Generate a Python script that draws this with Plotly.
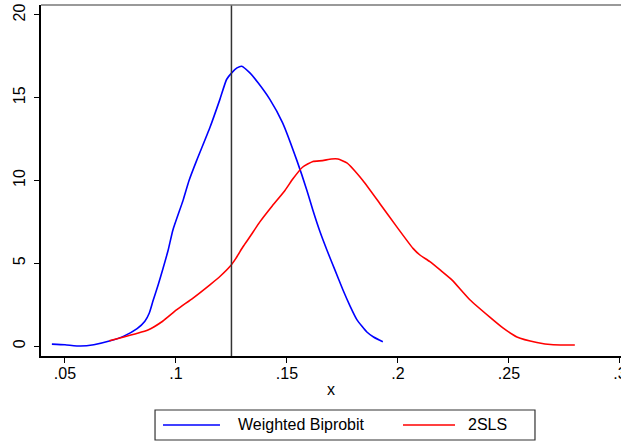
import plotly.graph_objects as go

# Kernel density estimates of the coefficient under two estimators
series_names = ["Weighted Biprobit", "2SLS"]
series_colors = ["#0000ff", "#ff0000"]

biprobit_x = [0.0441, 0.050, 0.057, 0.063, 0.070, 0.0765, 0.0825, 0.086, 0.088, 0.0896,
              0.0920, 0.0942, 0.0965, 0.0986, 0.1032, 0.1059, 0.1093, 0.1153, 0.1198,
              0.1228, 0.1251, 0.1275, 0.1296, 0.1333, 0.137, 0.1423, 0.148, 0.1545,
              0.159, 0.1617, 0.1649, 0.168, 0.1716, 0.1752, 0.1785, 0.1815, 0.186,
              0.189, 0.1932]
biprobit_y = [0.12, 0.08, 0.0, 0.08, 0.30, 0.6, 1.05, 1.5, 2.0, 2.7,
              3.7, 4.7, 5.8, 7.0, 8.8, 10.0, 11.2, 13.2, 14.9,
              16.1, 16.5, 16.8, 16.9, 16.5, 15.9, 14.9, 13.5, 11.2,
              9.4, 8.2, 6.9, 5.8, 4.6, 3.4, 2.4, 1.6, 0.85,
              0.55, 0.26]

tsls_x = [0.070, 0.0765, 0.082, 0.0874, 0.094, 0.1004, 0.1077, 0.1153, 0.1198,
          0.1243, 0.127, 0.1302, 0.1333, 0.1378, 0.1430, 0.1491, 0.1527, 0.157, 0.1617,
          0.166, 0.170, 0.173, 0.177, 0.1842, 0.1919, 0.1995, 0.2068, 0.2099, 0.2144,
          0.219, 0.2243, 0.2324, 0.2414, 0.2473, 0.2536, 0.2626, 0.270, 0.2797]
tsls_y = [0.32, 0.55, 0.75, 0.97, 1.5, 2.2, 2.9, 3.7, 4.2,
          4.8, 5.3, 6.0, 6.6, 7.5, 8.4, 9.4, 10.1, 10.8, 11.15,
          11.2, 11.3, 11.3, 11.06, 10.0, 8.6, 7.2, 5.9, 5.5, 5.1,
          4.6, 4.0, 2.8, 1.75, 1.1, 0.55, 0.22, 0.08, 0.06]

reference_x = 0.125

x_ticks = [0.05, 0.1, 0.15, 0.2, 0.25, 0.3]
x_tick_labels = [".05", ".1", ".15", ".2", ".25", ".3"]
y_ticks = [0, 5, 10, 15, 20]
y_tick_labels = ["0", "5", "10", "15", "20"]

FONT = "Liberation Sans, Arial, sans-serif"

fig = go.Figure()
for name, color, xs, ys in zip(series_names, series_colors,
                               [biprobit_x, tsls_x], [biprobit_y, tsls_y]):
    fig.add_trace(go.Scatter(x=xs, y=ys, mode="lines", name=name,
                             line=dict(color=color, width=1.6, shape="spline", smoothing=0.5),
                             showlegend=False, hoverinfo="skip"))

# vertical reference line
fig.add_shape(type="line", xref="x", yref="paper", x0=reference_x, x1=reference_x,
              y0=0, y1=1, line=dict(color="#333333", width=1.5))
# top border of the plot region
fig.add_shape(type="line", xref="paper", yref="paper", x0=0, x1=1, y0=1, y1=1,
              line=dict(color="#777777", width=1.5))

# legend box drawn below the axis
lx0, lx1, ly0, ly1 = 0.1966, 0.8517, -0.1538, -0.2393
ly = (ly0 + ly1) / 2
fig.add_shape(type="rect", xref="paper", yref="paper", x0=lx0, x1=lx1, y0=ly1, y1=ly0,
              line=dict(color="#333333", width=1.2), fillcolor="white")
legend_items = [(0.2103, 0.3086, 0.3362), (0.6241, 0.7138, 0.7328)]
for (sx0, sx1, tx), name, color in zip(legend_items, series_names, series_colors):
    fig.add_shape(type="line", xref="paper", yref="paper", x0=sx0, x1=sx1, y0=ly, y1=ly,
                  line=dict(color=color, width=1.6))
    fig.add_annotation(xref="paper", yref="paper", x=tx, y=ly, text=name, showarrow=False,
                       xanchor="left", yanchor="middle",
                       font=dict(family=FONT, size=16, color="#000000"))

fig.update_layout(
    width=621, height=442,
    margin=dict(l=41, r=0, t=5, b=86, autoexpand=False),
    paper_bgcolor="white", plot_bgcolor="white",
    font=dict(family=FONT, size=16, color="#000000"),
    xaxis=dict(range=[0.0392, 0.3005], tickvals=x_ticks, ticktext=x_tick_labels,
               showgrid=False, zeroline=False, showline=True, linecolor="#000000",
               linewidth=1.5, ticks="outside", ticklen=5, tickcolor="#000000",
               ticklabeloverflow="allow", ticklabelstandoff=-3, automargin=False,
               title=dict(text="x", font=dict(size=16), standoff=3)),
    yaxis=dict(range=[-0.6, 20.6], tickvals=y_ticks, ticktext=y_tick_labels,
               showgrid=False, zeroline=False, showline=True, linecolor="#000000",
               linewidth=1.5, ticks="outside", ticklen=5, tickcolor="#000000",
               ticklabelstandoff=3, automargin=False, tickangle=-90),
)

fig.write_html("out.html")
